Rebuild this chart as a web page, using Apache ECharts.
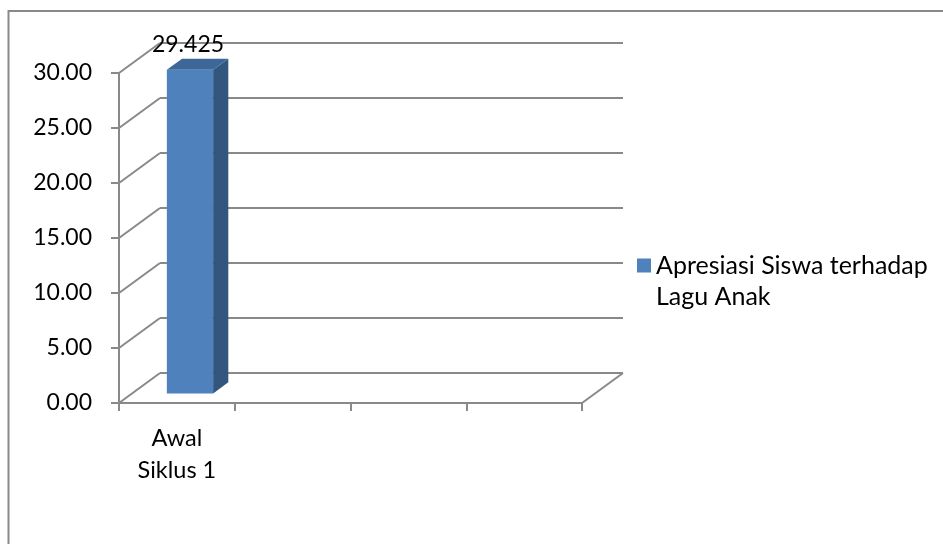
<!DOCTYPE html>
<html>
<head>
<meta charset="utf-8">
<script src="https://cdn.jsdelivr.net/npm/echarts@6/dist/echarts.min.js"></script>
<style>html,body{margin:0;padding:0;background:#fff}#c{width:943px;height:544px}</style>
</head>
<body>
<div id="c"></div>
<script>
const categories = ['Awal Siklus 1', '', '', ''];
const seriesName = 'Apresiasi Siswa terhadap Lagu Anak';
const values = [29.425, null, null, null];
const yTicks = [0, 5, 10, 15, 20, 25, 30];

const FONT = 'Lato';
const GRAY = '#898989';
const DEPTH = [41, -30];
const chart = echarts.init(document.getElementById('c'));

chart.setOption({
  animation: false,
  backgroundColor: '#fff',
  textStyle: { fontFamily: FONT },
  graphic: [{
    type: 'rect', shape: { x: 8.5, y: 11, width: 1200, height: 1200 },
    style: { fill: 'none', stroke: GRAY, lineWidth: 2 }, silent: true, z: -10
  }],
  legend: {
    left: 637, top: 219, padding: 0, orient: 'vertical',
    itemWidth: 14, itemHeight: 14,
    data: [{ name: seriesName, icon: 'rect', itemStyle: { color: '#4F81BD' } }],
    formatter: () => '\nApresiasi Siswa terhadap\nLagu Anak',
    textStyle: { fontFamily: FONT, fontSize: 25, color: '#000', lineHeight: 31 }
  },
  grid: [
    { left: 119, top: 73, width: 463, height: 330 },
    { left: 119 + DEPTH[0], top: 73 + DEPTH[1], width: 463, height: 330 }
  ],
  xAxis: [{
    type: 'category', gridIndex: 0, data: categories, boundaryGap: true,
    axisLine: { lineStyle: { color: GRAY, width: 2 } },
    axisTick: { show: true, length: 8, lineStyle: { color: GRAY, width: 2 } },
    axisLabel: {
      interval: 0, margin: 19, color: '#000', fontFamily: FONT, fontSize: 23.5, lineHeight: 32,
      formatter: v => v.replace(' ', '\n')
    },
    splitLine: { show: false }
  }, {
    type: 'category', gridIndex: 1, data: categories, show: false
  }],
  yAxis: [{
    type: 'value', gridIndex: 0, min: 0, max: 30, interval: 5,
    axisLine: { show: true, lineStyle: { color: GRAY, width: 2 } },
    axisTick: { show: true, length: 8, lineStyle: { color: GRAY, width: 2 } },
    axisLabel: { margin: 27, color: '#000', fontFamily: FONT, fontSize: 23, formatter: v => v.toFixed(2) },
    splitLine: { show: false }
  }, {
    type: 'value', gridIndex: 1, min: 0, max: 30, interval: 5,
    axisLine: { show: false }, axisTick: { show: false }, axisLabel: { show: false },
    splitLine: { show: true, lineStyle: { color: GRAY, width: 2 } }
  }],
  series: [{
    type: 'custom', name: 'walls', xAxisIndex: 0, yAxisIndex: 0, silent: true, clip: false,
    data: yTicks.map(v => [0, v]), z: 1,
    renderItem: (params, api) => {
      const cs = params.coordSys;
      const y = api.coord([0, api.value(1)])[1];
      const children = [{
        type: 'line', shape: { x1: cs.x, y1: y, x2: cs.x + DEPTH[0], y2: y + DEPTH[1] },
        style: { stroke: GRAY, lineWidth: 2 }
      }];
      if (api.value(1) === 0) {
        children.push({
          type: 'line', shape: { x1: cs.x + cs.width, y1: y, x2: cs.x + cs.width + DEPTH[0], y2: y + DEPTH[1] },
          style: { stroke: GRAY, lineWidth: 2 }
        });
      }
      return { type: 'group', children };
    }
  }, {
    type: 'custom', name: seriesName, xAxisIndex: 0, yAxisIndex: 0, clip: false, z: 5,
    itemStyle: { color: '#4F81BD' },
    data: values.map((v, i) => [i, v]),
    renderItem: (params, api) => {
      const v = api.value(1);
      if (v == null || isNaN(v)) return;
      const base = api.coord([api.value(0), 0]);
      const top = api.coord([api.value(0), v]);
      const bw = api.size([1, 0])[0];
      const w = bw * 0.4;
      const f = [DEPTH[0] * 0.32, DEPTH[1] * 0.32];
      const b = [DEPTH[0] * 0.69, DEPTH[1] * 0.69];
      const xl = base[0] - w / 2 + f[0], xr = base[0] + w / 2 + f[0];
      const yb = base[1] + f[1], yt = top[1] + f[1];
      const dx = b[0] - f[0], dy = b[1] - f[1];
      return {
        type: 'group', children: [
          { type: 'polygon', shape: { points: [[xl, yb], [xr, yb], [xr, yt], [xl, yt]] }, style: { fill: '#4F81BD' } },
          { type: 'polygon', shape: { points: [[xr, yb], [xr + dx, yb + dy], [xr + dx, yt + dy], [xr, yt]] }, style: { fill: '#33567F' } },
          { type: 'polygon', shape: { points: [[xl, yt], [xr, yt], [xr + dx, yt + dy], [xl + dx, yt + dy]] }, style: { fill: '#3E6799' } },
          { type: 'text', style: { text: String(v), x: (xl + xr) / 2 - 2, y: yt + dy - 3, align: 'center', verticalAlign: 'bottom',
            fill: '#000', font: '23px ' + FONT } }
        ]
      };
    }
  }]
});
</script>
</body>
</html>
